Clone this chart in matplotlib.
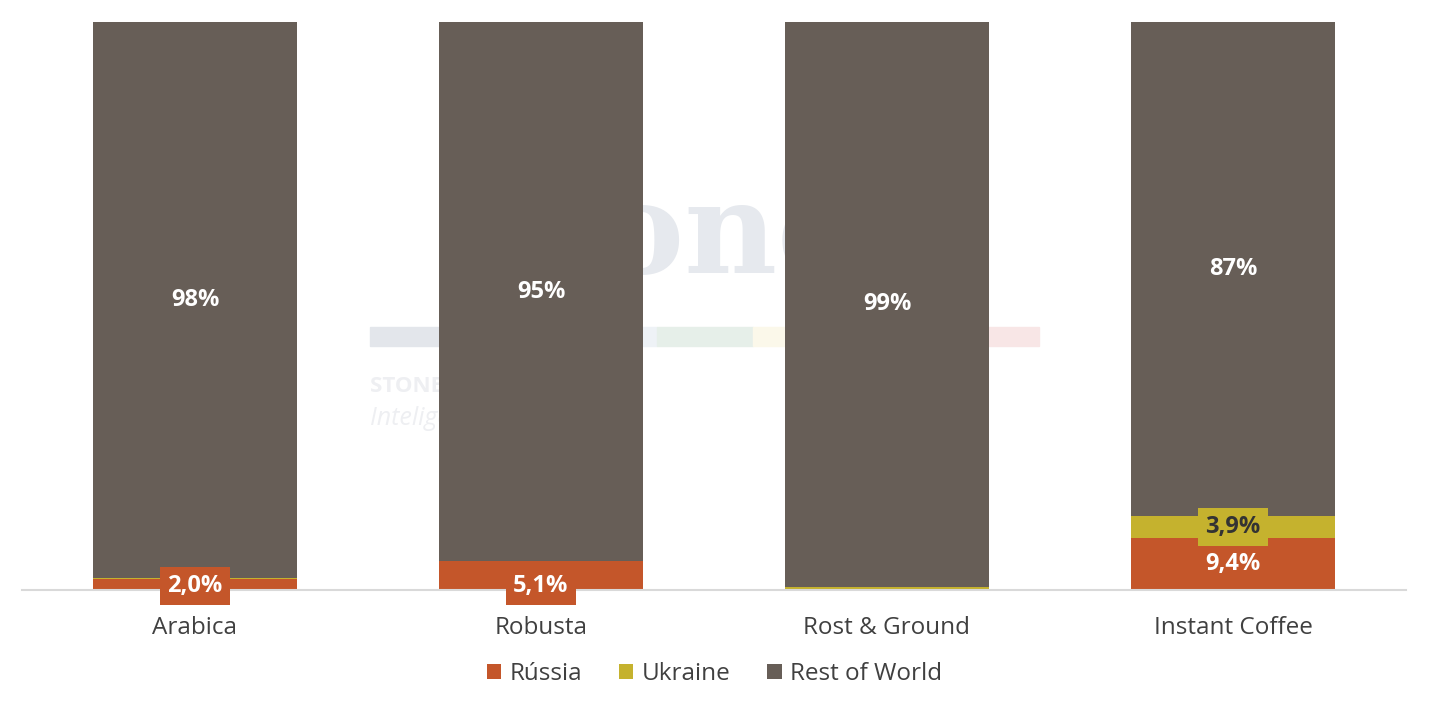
import matplotlib.pyplot as plt
import numpy as np

# share of each coffee type (%), stacked to 100
categories = ["Arabica", "Robusta", "Rost & Ground", "Instant Coffee"]
russia = [2.0, 5.1, 0.0, 9.2]
ukraine = [0.1, 0.0, 0.6, 3.9]
rest = [97.9, 94.9, 99.4, 86.9]

russia_labels = ["2,0%", "5,1%", "", "9,4%"]
ukraine_labels = ["", "", "", "3,9%"]
rest_labels = ["98%", "95%", "99%", "87%"]

c_russia = "#C4562A"
c_ukraine = "#C5B22E"
c_rest = "#675E57"

plt.rcParams['font.family'] = ['Open Sans', 'DejaVu Sans']

fig = plt.figure(figsize=(14.29, 7.09), dpi=100)
ax = fig.add_axes([22 / 1429, 119 / 709, 1384 / 1429, 568 / 709])
ax.set_zorder(2)

x = np.arange(len(categories))
width = 0.587

# faint watermark behind the bars
fig.text(0.492, 0.665, "StoneX", fontsize=92, family="DejaVu Serif", fontweight="bold",
         color="#e6e9ee", ha="center", va="center", zorder=0)
fig.text(0.259, 0.455, "STONEX BRASIL", fontsize=16, fontweight="bold",
         color="#eeeff2", ha="left", va="center", zorder=0)
fig.text(0.259, 0.41, "Inteligência de Mercado", fontsize=18, style="italic",
         color="#eeeff2", ha="left", va="center", zorder=0)
for i, col in enumerate(["#e3e6eb", "#e3e6eb", "#eef2f6", "#e6efe9", "#fbf8ea", "#fdf6f0", "#f8e6e6"]):
    fig.patches.append(plt.Rectangle((0.259 + i * 0.0669, 0.512), 0.0669, 0.027,
                                     transform=fig.transFigure, color=col, zorder=0))

ax.patch.set_alpha(0)
b1 = ax.bar(x, russia, width, color=c_russia, zorder=2)
b2 = ax.bar(x, ukraine, width, bottom=russia, color=c_ukraine, zorder=2)
bottom2 = np.array(russia) + np.array(ukraine)
b3 = ax.bar(x, rest, width, bottom=bottom2, color=c_rest, zorder=2)

for i in range(len(categories)):
    if russia_labels[i]:
        y = russia[i] / 2 if russia[i] > 6 else 0.7
        box = None if russia[i] > 6 else dict(boxstyle="square,pad=0.3", fc=c_russia, ec="none")
        ax.text(x[i], y, russia_labels[i], ha="center", va="center", color="white",
                fontsize=17, fontweight="bold", bbox=box, zorder=4)
    if ukraine_labels[i]:
        ax.text(x[i], russia[i] + ukraine[i] / 2, ukraine_labels[i], ha="center", va="center",
                color="#333333", fontsize=17, fontweight="bold",
                bbox=dict(boxstyle="square,pad=0.3", fc=c_ukraine, ec="none"), zorder=4)
    ax.text(x[i], bottom2[i] + rest[i] / 2, rest_labels[i], ha="center", va="center",
            color="white", fontsize=17, fontweight="bold", zorder=4)

ax.set_xlim(-0.5, 3.5)
ax.set_ylim(0, 100)
ax.set_xticks(x)
ax.set_xticklabels(categories, fontsize=17.5, color="#404040")
ax.tick_params(axis="x", length=0, pad=19)
ax.set_yticks([])
for s in ["top", "right", "left"]:
    ax.spines[s].set_visible(False)
ax.spines["bottom"].set_color("#d9d9d9")
ax.spines["bottom"].set_linewidth(1.5)

fig.legend((b1[0], b2[0], b3[0]), ("Rússia", "Ukraine", "Rest of World"),
           loc="center", bbox_to_anchor=(0.5, 0.049), ncol=3, frameon=False,
           fontsize=17.5, handlelength=0.6, handleheight=0.6, handletextpad=0.35,
           columnspacing=1.5, labelcolor="#404040")

fig.savefig("out.png", dpi=100)
